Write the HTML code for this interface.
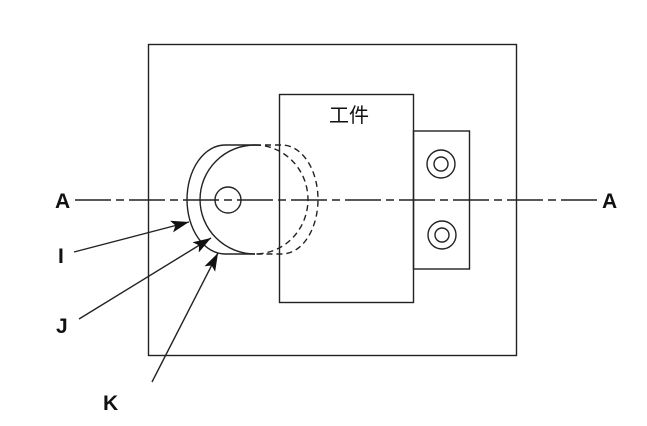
<!DOCTYPE html>
<html><head><meta charset="utf-8"><style>body{margin:0;background:#fff}</style></head><body>
<svg width="647" height="426" xmlns="http://www.w3.org/2000/svg" style="display:block">
<defs>
<marker id="a2" viewBox="0 0 18 12" markerWidth="18" markerHeight="12" refX="18" refY="6" orient="auto" markerUnits="userSpaceOnUse"><path d="M0,0 L18,6 L0,12 L4,6 Z" fill="#111"/></marker></defs>
<g fill="none" stroke="#222" stroke-width="1.4">
<rect x="148.5" y="44.5" width="368" height="311"/>
<rect x="279.5" y="94.5" width="134" height="208" fill="#fff"/>
<rect x="413.5" y="131" width="56" height="138"/>
<circle cx="441" cy="164" r="14"/><circle cx="441" cy="164" r="7"/>
<circle cx="442" cy="235" r="14"/><circle cx="442" cy="235" r="7"/>
<line x1="75" y1="200" x2="600" y2="200" stroke-dasharray="36,5,8,5"/>
<path d="M255,145 A55,54.5 0 0 0 255,254"/>
<path d="M255,145 A53,54.5 0 0 1 255,254" stroke-dasharray="6,4"/>
<path d="M225,145 L255,145 M255,254 L225,254 M225,145 A38,54.5 0 0 0 225,254"/>
<path d="M255,145 L282,145 A36,54.5 0 0 1 282,254 L255,254" stroke-dasharray="6,4"/>
<circle cx="228" cy="200" r="13"/>
<line x1="74" y1="252" x2="189" y2="222" marker-end="url(#a2)"/>
<line x1="79" y1="319" x2="211" y2="238" marker-end="url(#a2)"/>
<line x1="152" y1="382" x2="218" y2="253" marker-end="url(#a2)"/>
</g>
<g font-family="Liberation Sans, sans-serif" font-weight="bold" font-size="21" fill="#111">
<text x="55" y="208">A</text><text x="602" y="208">A</text>
<text x="58" y="263">I</text><text x="56" y="333">J</text><text x="103" y="410">K</text>
</g>
<text x="329" y="122" font-family="Liberation Sans, Noto Sans CJK SC, sans-serif" font-size="20" fill="#111">工件</text>
</svg>
</body></html>
